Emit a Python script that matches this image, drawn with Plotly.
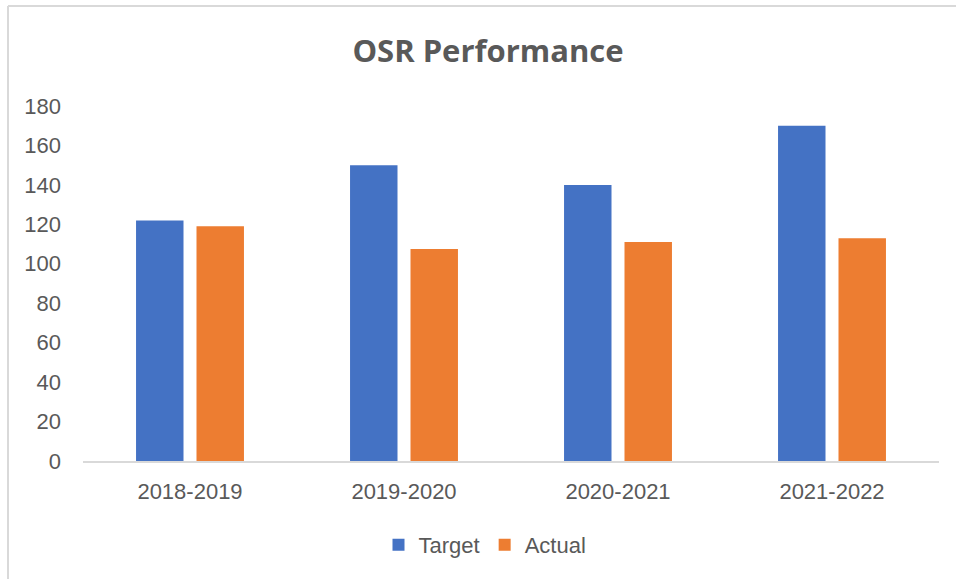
"""OSR Performance: target vs actual, grouped bars."""

import plotly.graph_objects as go

years = ["2018-2019", "2019-2020", "2020-2021", "2021-2022"]
target = [122, 150, 140, 170]
actual = [119, 107.5, 111, 113]

W, H = 956, 579
L, R, T, B = 83, 17, 106, 118

TEXT = "#595959"
GRID = "#d9d9d9"
TICK_FONT = dict(family="Liberation Sans, Arial, sans-serif", size=22, color=TEXT)


def px_x(px):
    return (px - L) / (W - L - R)


def px_y(py):
    return (H - B - py) / (H - T - B)


fig = go.Figure()
fig.add_trace(go.Bar(x=years, y=target, name="Target", marker=dict(color="#4472c4", line=dict(width=0))))
fig.add_trace(go.Bar(x=years, y=actual, name="Actual", marker=dict(color="#ed7d31", line=dict(width=0))))

# light frame on the top and left edges like the Excel chart area
fig.add_shape(type="line", xref="paper", yref="paper",
              x0=px_x(8), x1=px_x(W + 5), y0=px_y(6), y1=px_y(6),
              line=dict(color=GRID, width=2))
fig.add_shape(type="line", xref="paper", yref="paper",
              x0=px_x(8), x1=px_x(8), y0=px_y(6), y1=px_y(H + 5),
              line=dict(color=GRID, width=2))

fig.update_layout(
    width=W,
    height=H,
    margin=dict(l=L, r=R, t=T, b=B),
    paper_bgcolor="white",
    plot_bgcolor="white",
    barmode="group",
    bargap=0.435,
    bargroupgap=0.215,
    title=dict(
        text="<b>OSR Performance</b>",
        x=488 / W,
        xanchor="center",
        y=1 - 51 / H,
        yanchor="middle",
        font=dict(family="Open Sans, sans-serif", size=31, color=TEXT),
    ),
    legend=dict(
        orientation="h",
        x=px_x(485),
        xanchor="center",
        y=px_y(545),
        yanchor="middle",
        font=TICK_FONT,
        itemwidth=30,
        traceorder="normal",
    ),
    xaxis=dict(
        showline=True,
        linecolor=GRID,
        linewidth=2,
        showgrid=False,
        ticks="",
        tickfont=TICK_FONT,
        ticklabelstandoff=10,
    ),
    yaxis=dict(
        range=[0, 180],
        dtick=20,
        showgrid=False,
        zeroline=False,
        showline=False,
        ticks="",
        tickfont=TICK_FONT,
        ticklabelstandoff=21,
    ),
)

fig.write_html(
    "out.html",
    config={"displayModeBar": False},
    post_script="document.body.style.margin = '0';",
)
